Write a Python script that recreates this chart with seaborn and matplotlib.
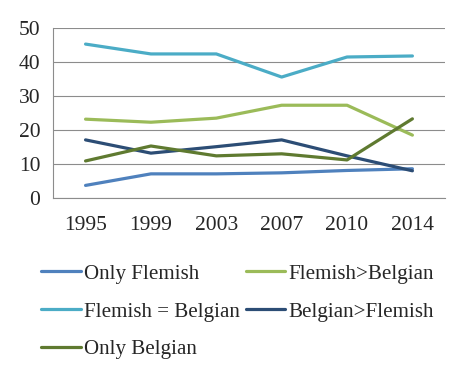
import matplotlib
matplotlib.use("Agg")
import matplotlib.pyplot as plt
import seaborn as sns
import pandas as pd
import numpy as np

years = ["1995", "1999", "2003", "2007", "2010", "2014"]
only_flemish = [3.7, 7.1, 7.1, 7.4, 8.1, 8.6]
flemish_gt_belgian = [23.2, 22.3, 23.5, 27.3, 27.3, 18.5]
flemish_eq_belgian = [45.3, 42.4, 42.4, 35.6, 41.5, 41.8]
belgian_gt_flemish = [17.1, 13.2, 15.1, 17.1, 12.4, 8.0]
only_belgian = [10.9, 15.3, 12.4, 13.0, 11.2, 23.3]

series = {
    "Only Flemish": only_flemish,
    "Flemish>Belgian": flemish_gt_belgian,
    "Flemish = Belgian": flemish_eq_belgian,
    "Belgian>Flemish": belgian_gt_flemish,
    "Only Belgian": only_belgian,
}
colors = {
    "Only Flemish": "#4F81BD",
    "Flemish>Belgian": "#9BBB59",
    "Flemish = Belgian": "#4BACC6",
    "Belgian>Flemish": "#2C4D75",
    "Only Belgian": "#5F7A30",
}

rows = []
for name, vals in series.items():
    for i, v in enumerate(vals):
        rows.append({"pos": i, "year": years[i], "value": v, "series": name})
df = pd.DataFrame(rows)

sns.set_style("white")
plt.rcParams["font.family"] = ["Liberation Serif", "DejaVu Serif"]

fig = plt.figure(figsize=(4.72, 3.8), dpi=100)
ax = fig.add_axes([0.112, 0.479, 0.831, 0.447])

sns.lineplot(data=df, x="pos", y="value", hue="series", palette=colors,
             hue_order=list(series.keys()), linewidth=2.3, ax=ax, legend=False)

fs = 15.5
ax.set_xlim(-0.5, len(years) - 0.5)
ax.set_ylim(0, 50)
ax.set_yticks([0, 10, 20, 30, 40, 50])
ax.yaxis.grid(True, color="#8C8C8C", linewidth=0.8)
ax.set_axisbelow(True)
ax.set_xticks(np.arange(-0.5, len(years)), minor=False)
ax.set_xticklabels([])
ax.set_xticks(np.arange(len(years)), minor=True)
ax.set_xticklabels(years, minor=True)
ax.tick_params(axis="x", which="major", length=6, color="#8C8C8C", width=0.8, direction="out")
ax.tick_params(axis="x", which="minor", length=0, pad=13, labelsize=fs)
ax.tick_params(axis="y", length=5, color="#8C8C8C", width=0.8, labelsize=fs, pad=4)
ax.set_xlabel("")
ax.set_ylabel("")
for s in ["top", "right"]:
    ax.spines[s].set_visible(False)
for s in ["left", "bottom"]:
    ax.spines[s].set_color("#8C8C8C")
    ax.spines[s].set_linewidth(0.8)

order = ["Only Flemish", "Flemish = Belgian", "Only Belgian", "Flemish>Belgian", "Belgian>Flemish"]
handles = [plt.Line2D([], [], color=colors[n], linewidth=2.3) for n in order]
fig.legend(handles, order, loc="upper left", bbox_to_anchor=(0.07, 0.327),
           ncol=2, frameon=False, fontsize=15.1, handlelength=1.9, handletextpad=0.15,
           columnspacing=0.25, labelspacing=0.86, borderaxespad=0)

fig.savefig("out.png", dpi=100)
